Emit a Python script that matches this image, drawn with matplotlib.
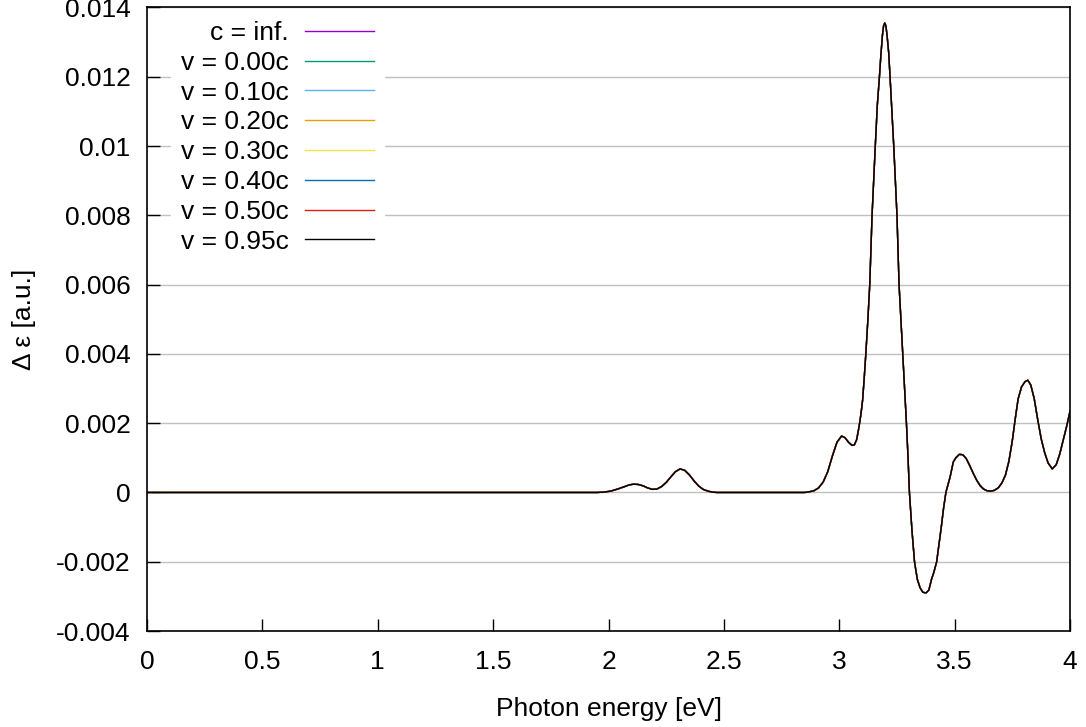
import matplotlib
matplotlib.use('Agg')
import matplotlib.pyplot as plt

plt.rcParams['font.family'] = ['Liberation Sans', 'DejaVu Sans']

# photon energy [eV] and delta epsilon
energy = [0, 1.95, 1.98, 2.01, 2.04, 2.07, 2.09, 2.11, 2.13, 2.15, 2.17, 2.19, 2.21, 2.23, 2.25,
          2.27, 2.29, 2.31, 2.33, 2.35, 2.37, 2.39, 2.41, 2.43, 2.45, 2.47,
          2.85, 2.87, 2.89, 2.91, 2.93, 2.95, 2.97, 2.99, 3.01, 3.025, 3.04, 3.055, 3.065, 3.075,
          3.083, 3.09, 3.096, 3.101, 3.108, 3.115, 3.124, 3.132, 3.142, 3.149, 3.156, 3.165, 3.174,
          3.18, 3.187, 3.192, 3.197, 3.202, 3.207, 3.214, 3.22, 3.228, 3.236, 3.243, 3.25, 3.259,
          3.267, 3.275, 3.283, 3.291, 3.298, 3.304, 3.315, 3.326, 3.338, 3.35, 3.362, 3.376, 3.388,
          3.40, 3.41, 3.422, 3.432, 3.442, 3.452, 3.462, 3.47, 3.48, 3.494, 3.505, 3.52, 3.535,
          3.55, 3.565, 3.58, 3.595, 3.61, 3.625, 3.64, 3.656, 3.672, 3.69, 3.705, 3.72, 3.735,
          3.75, 3.762, 3.775, 3.79, 3.805, 3.817, 3.83, 3.845, 3.86, 3.875, 3.89, 3.905, 3.923,
          3.94, 3.955, 3.97, 3.985, 4.0]
deps = [0, 0, 0.00001, 0.00004, 0.0001, 0.00017, 0.00022, 0.00024, 0.00023, 0.00019, 0.00013,
        0.00009, 0.0001, 0.00017, 0.00029, 0.00045, 0.0006, 0.00068, 0.00064, 0.00051, 0.00034,
        0.00019, 0.00009, 0.00004, 0.00001, 0,
        0, 0.00002, 0.00005, 0.00013, 0.0003, 0.0006, 0.00105, 0.00145, 0.00163, 0.00158,
        0.00145, 0.00136, 0.00137, 0.00152, 0.0018, 0.00208, 0.00238, 0.00266, 0.0033, 0.004,
        0.005, 0.006, 0.008, 0.009, 0.010, 0.0112, 0.012, 0.0126, 0.0132, 0.01347, 0.01355,
        0.01347, 0.0132, 0.0127, 0.012, 0.011, 0.010, 0.009, 0.008, 0.006, 0.005, 0.004, 0.003,
        0.002, 0.001, 0.0, -0.0011, -0.002, -0.0025, -0.00275, -0.00288, -0.0029, -0.00282,
        -0.0025, -0.0023, -0.002, -0.0015, -0.001, -0.00045, 0.0, 0.0002, 0.00044, 0.00088,
        0.001, 0.0011, 0.00109, 0.00098, 0.00078, 0.00056, 0.00036, 0.0002, 0.0001, 0.00005,
        0.00004, 0.00006, 0.00014, 0.00028, 0.0005, 0.0009, 0.0015, 0.0021, 0.0027, 0.00305,
        0.0032, 0.00324, 0.0031, 0.0027, 0.0021, 0.00155, 0.00115, 0.00085, 0.00068, 0.0008,
        0.0011, 0.0015, 0.0019, 0.00235]

labels = ['c = inf.', 'v = 0.00c', 'v = 0.10c', 'v = 0.20c', 'v = 0.30c', 'v = 0.40c',
          'v = 0.50c', 'v = 0.95c']
colors = ['#9400d3', '#009e73', '#56b4e9', '#e69f00', '#f0e442', '#0072b2', '#e51e10', 'black']

yticks = [-0.004, -0.002, 0, 0.002, 0.004, 0.006, 0.008, 0.01, 0.012, 0.014]
yticklabels = ['-0.004', '-0.002', '0', '0.002', '0.004', '0.006', '0.008', '0.01', '0.012', '0.014']
xticks = [0, 0.5, 1, 1.5, 2, 2.5, 3, 3.5, 4]
xticklabels = ['0', '0.5', '1', '1.5', '2', '2.5', '3', '3.5', '4']

fig = plt.figure(figsize=(10.86, 7.27), dpi=100)
ax = fig.add_axes([0.1354, 0.132, 0.8499, 0.8577])

# all curves coincide, the last one (black) ends up on top
for lab, col in zip(labels, colors):
    ax.plot(energy, deps, color=col, lw=1.0, label=lab)

ax.set_xlim(0, 4)
ax.set_ylim(-0.004, 0.014)
ax.set_xticks(xticks)
ax.set_xticklabels(xticklabels)
ax.set_yticks(yticks)
ax.set_yticklabels(yticklabels)
ax.tick_params(direction='in', length=9, width=1, labelsize=19, pad=12,
               top=False, right=False)
ax.tick_params(axis='x', pad=14)
ax.yaxis.grid(True, color='#c0c0c0', lw=1)
ax.set_axisbelow(True)
for s in ax.spines.values():
    s.set_linewidth(1.2)

ax.set_xlabel('Photon energy [eV]', fontsize=19, labelpad=16)
ax.set_ylabel('Δ ε [a.u.]', fontsize=19, labelpad=14)

leg = ax.legend(loc='upper left', bbox_to_anchor=(0.017, 1.008), markerfirst=False,
                frameon=True, fontsize=19, handlelength=2.6, handletextpad=0.6,
                labelspacing=0.22, borderaxespad=0.3, fancybox=False)
leg.get_frame().set_facecolor('white')
leg.get_frame().set_edgecolor('white')
leg.get_frame().set_alpha(1)
leg._legend_box.align = 'right'
for t in leg.get_texts():
    t.set_horizontalalignment('right')

fig.savefig('out.png', dpi=100)
